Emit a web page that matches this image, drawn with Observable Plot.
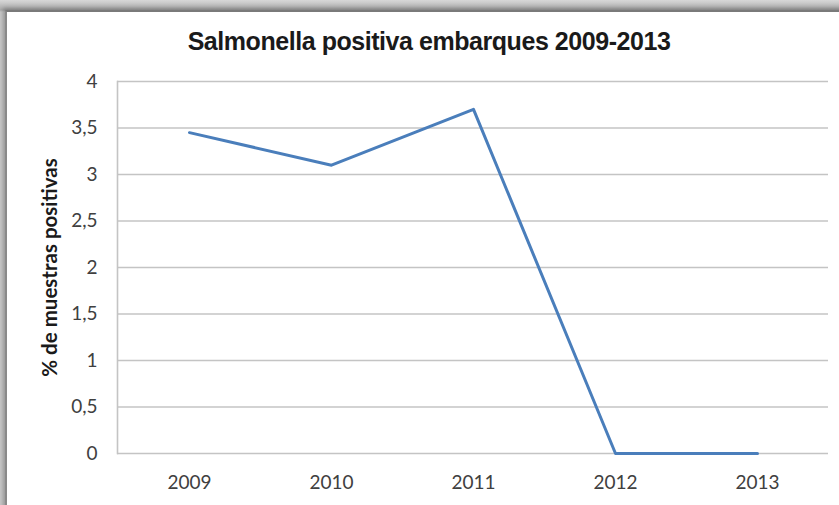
<!DOCTYPE html>
<html>
<head>
<meta charset="utf-8">
<script src="https://cdn.jsdelivr.net/npm/d3@7"></script>
<script src="https://cdn.jsdelivr.net/npm/@observablehq/plot@0.6"></script>
<style>
  html, body { margin: 0; padding: 0; width: 839px; height: 505px; overflow: hidden; }
  body { background: linear-gradient(#d8d8d8, #a9a9a9 10px, #c8c8c8 12px); position: relative; }
  #card { position: absolute; left: 5px; top: 10px; width: 860px; height: 520px; background: #fff;
          border-top: 2px solid #7a7a7a; border-left: 2px solid #8a8a8a; box-sizing: border-box;
          box-shadow: -2px -2px 4px rgba(0,0,0,0.25); }
  #title { position: absolute; left: 0; top: 26px; width: 858px; text-align: center;
           font: bold 25px "Liberation Sans", Arial, sans-serif; color: #1a1a1a; letter-spacing: -0.45px; line-height: 30px; }
  #chart { position: absolute; left: 0; top: 60px; }
</style>
</head>
<body>
<div id="card"></div>
<div id="title">Salmonella positiva embarques 2009-2013</div>
<div id="chart"></div>
<script>
const years = ["2009", "2010", "2011", "2012", "2013"];
const values = [3.45, 3.1, 3.7, 0, 0];
const yTicks = [0, 0.5, 1, 1.5, 2, 2.5, 3, 3.5, 4];
const yLabel = "% de muestras positivas";

const data = years.map((y, i) => ({year: y, value: values[i]}));

const plot = Plot.plot({
  width: 839,
  height: 445,
  marginTop: 21,
  marginBottom: 52,
  marginLeft: 117,
  marginRight: 11,
  style: {background: "transparent", fontFamily: "Lato, 'Open Sans', sans-serif", fontSize: "19px", color: "#404040"},
  x: {type: "point", domain: years, padding: 0.5, label: null},
  y: {domain: [0, 4], ticks: yTicks, label: yLabel},
  marks: [
    Plot.ruleY(yTicks, {stroke: "#c4c4c4", strokeWidth: 1.6}),
    Plot.frame({anchor: "left", stroke: "#c4c4c4", strokeWidth: 1.6}),
    Plot.axisX({tickSize: 0, tickPadding: 22, fontSize: 19, label: null}),
    Plot.axisY({tickSize: 0, tickPadding: 20, ticks: yTicks, fontSize: 19,
      tickFormat: d => String(d).replace(".", ","),
      label: yLabel, labelArrow: "none", labelAnchor: "center", labelOffset: 75}),
    Plot.line(data, {x: "year", y: "value", stroke: "#4a7ebb", strokeWidth: 3})
  ]
});
document.getElementById("chart").appendChild(plot);
plot.querySelectorAll("g[aria-label='y-axis label']").forEach(el => {
  el.setAttribute("font-weight", "bold"); el.setAttribute("font-size", "20.5"); el.setAttribute("fill", "#1a1a1a");
  el.querySelectorAll("text").forEach(t => t.setAttribute("font-size", "20.5"));
});
</script>
</body>
</html>
